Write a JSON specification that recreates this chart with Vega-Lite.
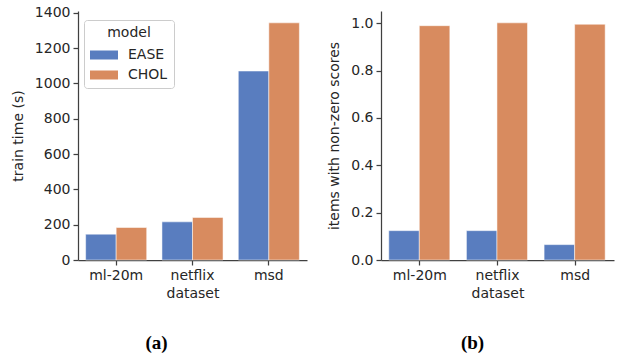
{
  "$schema": "https://vega.github.io/schema/vega-lite/v6.json",
  "background": "white",
  "padding": {"left": 11, "top": 5, "right": 4, "bottom": 4},
  "config": {
    "font": "DejaVu Sans",
    "view": {"stroke": null},
    "concat": {"spacing": 20},
    "axis": {
      "grid": false,
      "labelFont": "DejaVu Sans",
      "labelFontSize": 14,
      "labelColor": "#262626",
      "titleFont": "DejaVu Sans",
      "titleFontSize": 14,
      "titleFontWeight": "normal",
      "titleColor": "#262626",
      "domainColor": "#404040",
      "tickColor": "#404040",
      "domainWidth": 1.25,
      "tickWidth": 1.25,
      "tickSize": 5,
      "labelPadding": 3
    }
  },
  "data": {
    "values": [
      {"dataset": "ml-20m", "model": "EASE", "train_time": 146, "nonzero": 0.124},
      {"dataset": "ml-20m", "model": "CHOL", "train_time": 184, "nonzero": 0.990},
      {"dataset": "netflix", "model": "EASE", "train_time": 216, "nonzero": 0.124},
      {"dataset": "netflix", "model": "CHOL", "train_time": 241, "nonzero": 1.002},
      {"dataset": "msd", "model": "EASE", "train_time": 1070, "nonzero": 0.065},
      {"dataset": "msd", "model": "CHOL", "train_time": 1343, "nonzero": 0.996}
    ]
  },
  "hconcat": [
    {
      "width": 229,
      "height": 249,
      "title": {"text": "(a)", "orient": "bottom", "anchor": "middle", "font": "Liberation Serif", "fontSize": 19, "fontWeight": "bold", "color": "#000000", "offset": 34, "dx": -36},
      "mark": {"type": "bar", "stroke": "white", "strokeWidth": 0.5},
      "encoding": {
        "x": {"field": "dataset", "type": "nominal", "sort": ["ml-20m", "netflix", "msd"], "scale": {"paddingInner": 0.2, "paddingOuter": 0.1}, "axis": {"labelAngle": 0, "title": "dataset", "titlePadding": 4}},
        "xOffset": {"field": "model", "type": "nominal", "sort": ["EASE", "CHOL"]},
        "y": {"field": "train_time", "type": "quantitative", "scale": {"domain": [0, 1410], "nice": false}, "axis": {"values": [0, 200, 400, 600, 800, 1000, 1200, 1400], "format": "d", "title": "train time (s)", "titlePadding": 9}},
        "color": {
          "field": "model", "type": "nominal", "sort": ["EASE", "CHOL"],
          "scale": {"domain": ["EASE", "CHOL"], "range": ["#597DBF", "#D88B5F"]},
          "legend": {
            "orient": "none", "legendX": 6, "legendY": 9,
            "title": "model", "titleAnchor": "middle", "titleFontSize": 14, "titleFontWeight": "normal", "titleColor": "#262626", "titleFont": "DejaVu Sans",
            "labelFontSize": 14, "labelColor": "#262626", "labelFont": "DejaVu Sans",
            "symbolType": "M-1.4,-0.45H1.4V0.45H-1.4Z", "symbolSize": 400, "symbolStrokeWidth": 0, "symbolOpacity": 1,
            "symbolOffset": 4, "labelOffset": 14,
            "fillColor": "rgba(255,255,255,0.85)", "strokeColor": "#cccccc", "cornerRadius": 3,
            "padding": 6, "rowPadding": 3, "titlePadding": 5
          }
        }
      }
    },
    {
      "width": 233,
      "height": 249,
      "title": {"text": "(b)", "orient": "bottom", "anchor": "middle", "font": "Liberation Serif", "fontSize": 19, "fontWeight": "bold", "color": "#000000", "offset": 34, "dx": -25},
      "mark": {"type": "bar", "stroke": "white", "strokeWidth": 0.5},
      "encoding": {
        "x": {"field": "dataset", "type": "nominal", "sort": ["ml-20m", "netflix", "msd"], "scale": {"paddingInner": 0.2, "paddingOuter": 0.1}, "axis": {"labelAngle": 0, "title": "dataset", "titlePadding": 4}},
        "xOffset": {"field": "model", "type": "nominal", "sort": ["EASE", "CHOL"]},
        "y": {"field": "nonzero", "type": "quantitative", "scale": {"domain": [0, 1.052], "nice": false}, "axis": {"values": [0, 0.2, 0.4, 0.6, 0.8, 1.0], "format": ".1f", "title": "items with non-zero scores", "titlePadding": 9}},
        "color": {"field": "model", "type": "nominal", "sort": ["EASE", "CHOL"], "scale": {"domain": ["EASE", "CHOL"], "range": ["#597DBF", "#D88B5F"]}, "legend": null}
      }
    }
  ]
}
